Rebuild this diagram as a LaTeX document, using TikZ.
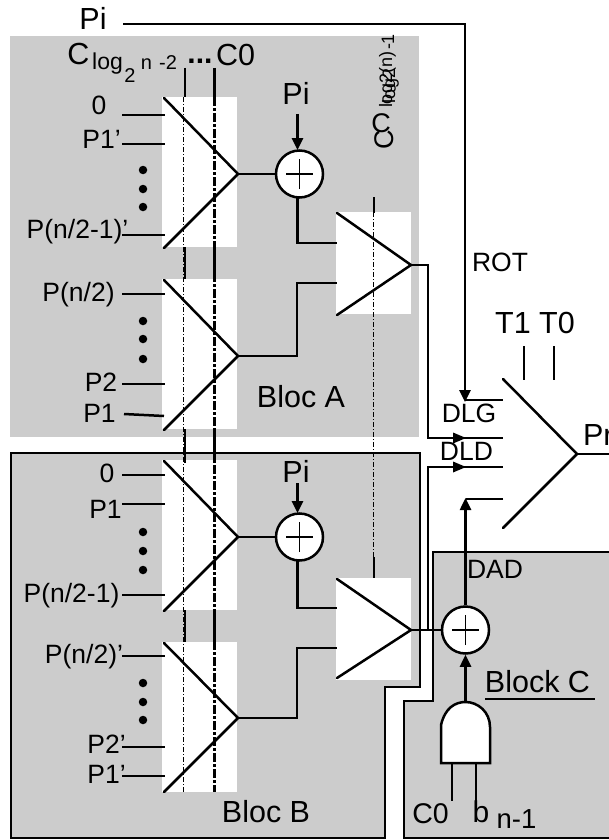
\documentclass[tikz,border=0pt]{standalone}
\usepackage{fontspec}
\setmainfont{Liberation Sans}
\usetikzlibrary{arrows.meta}
\definecolor{blocgray}{HTML}{CCCCCC}
\newcommand{\fs}[1]{\fontsize{#1}{#1}\selectfont}
\tikzset{
  x=1pt,y=-1pt,
  wire/.style={line width=2.5pt,black},
  thinwire/.style={line width=2pt,black},
  arrowwire/.style={wire,-{Triangle[length=12pt,width=11pt]},shorten >=0pt},
  panel/.style={fill=blocgray,draw=none},
  whitebox/.style={fill=white,draw=none},
  blocborder/.style={fill=blocgray,draw=black,line width=2.5pt,miter limit=10},
  muxline/.style={line width=2.5pt,black,line cap=round},
  xorgate/.style={circle,draw=black,fill=white,line width=2.5pt,minimum size=47pt,inner sep=0pt},
  lab/.style={anchor=base,inner sep=0pt,outer sep=0pt,text=black,font=\fs{26.5}},
  biglab/.style={lab,font=\fs{30.5}},
  midlab/.style={lab,font=\fs{23}},
  smalllab/.style={lab,font=\fs{20}},
  dotmark/.style={circle,fill=black,draw=none,minimum size=8.5pt,inner sep=0pt},
  thindash/.style={line width=0.9pt,black,dash pattern=on 5pt off 2pt on 1pt off 2pt},
  heavydash/.style={line width=2.5pt,black,dash pattern=on 9pt off 2pt on 3pt off 2pt},
  selline/.style={line width=2.5pt,black}
}
\newcommand{\xorplus}[1]{%
  \draw[line width=1.8pt] ([xshift=-13.5pt]#1.center) -- ([xshift=13.5pt]#1.center);
  \draw[line width=1.8pt] ([yshift=-15pt]#1.center) -- ([yshift=15pt]#1.center);}
\begin{document}
\begin{tikzpicture}
\useasboundingbox (0,0) rectangle (609,840);
\clip (0,0) rectangle (609,840);
% panels
\fill[panel] (10,36) rectangle (419,437);
\draw[blocborder] (11,453) -- (420,453) -- (420,687) -- (385,687) -- (385,838) -- (11,838) -- cycle;
\draw[blocborder] (640,552) -- (433,552) -- (433,701) -- (404,701) -- (404,838) -- (640,838);
% white backgrounds of the multiplexers
\foreach \ya/\yb in {97/247,279/429,460/610,642/792} \fill[whitebox] (162,\ya) rectangle (237,\yb);
\fill[whitebox] (336,212) rectangle (411,314);
\fill[whitebox] (336,578) rectangle (411,680);
% select lines
\draw[thindash] (183.5,97) -- (183.5,792);
\foreach \ya/\yb in {68/97,247/279,429/463,610/642} \draw[selline] (185,\ya) -- (185,\yb);
\draw[heavydash] (214.3,97) -- (214.3,792);
\foreach \ya/\yb in {68/97,247/279,429/460,610/642} \draw[selline] (214.3,\ya) -- (214.3,\yb);
\draw[thindash] (373.3,212) -- (373.3,578);
\draw[selline] (374,197) -- (374,213);
\draw[selline] (374,557) -- (374,578);
% multiplexers
\coordinate (m1) at (238,174);
\coordinate (m2) at (238,356);
\coordinate (m3) at (238,537);
\coordinate (m4) at (238,718);
\coordinate (m5) at (411,265);
\coordinate (m6) at (411,630);
\coordinate (mout) at (577,454);
\draw[muxline] (164,98) -- (m1) -- (164,248);
\draw[muxline] (164,280) -- (m2) -- (164,430);
\draw[muxline] (164,461) -- (m3) -- (164,611);
\draw[muxline] (164,643) -- (m4) -- (164,792);
\draw[muxline] (337,213) -- (m5) -- (337,315);
\draw[muxline] (337,579) -- (m6) -- (337,678);
\draw[muxline] (503,379) -- (mout) -- (503,528);
% mux inputs
\foreach \y in {115,144,235,294,384,475,504,595,656,747,776} \draw[wire] (122,\y) -- (165,\y);
\draw[wire] (124,414) -- (164,416);
% ellipsis dots
\foreach \y in {170,189,207,321,339,359,532,551,570,683,702,720} \node[dotmark] at (143,\y) {};
% xor gates
\node[xorgate] (xa) at (299.5,174) {};
\node[xorgate] (xb) at (299.5,537) {};
\node[xorgate] (xc) at (465.5,630) {};
\xorplus{xa}\xorplus{xb}\xorplus{xc}
\draw[thinwire] (m1) -- (xa.west);
\draw[thinwire] (m3) -- (xb.west);
\draw[thinwire] (m6) -- (xc.west);
% xor to second stage
\draw[wire] (297.5,197) -- (297.5,243) -- (337,243);
\draw[wire] (m2) -- (297,356) -- (297,283) -- (337,283);
\draw[wire] (297.5,560) -- (297.5,608) -- (337,608);
\draw[wire] (m4) -- (297,718) -- (297,648) -- (337,648);
% Pi arrows
\coordinate (pa) at (297.5,114);
\coordinate (pb) at (297.5,483);
\coordinate (pat) at (297.5,150);
\coordinate (pbt) at (297.5,513);
\draw[arrowwire] (pa) -- (pat);
\draw[arrowwire] (pb) -- (pbt);
% main inputs
\coordinate (pitop) at (123,24);
\coordinate (rotin) at (465,402);
\draw[arrowwire] (pitop) -- (465,24) -- (rotin);
\draw[wire] (465,400) -- (503,400);
\draw[wire] (m5) -- (428,265) -- (428,438) -- (503,438);
\draw[wire] (428,630) -- (428,467) -- (503,467);
\fill[black] (466,438) -- (453,432.5) -- (453,443.5) -- cycle;
\fill[black] (466,467) -- (453,461.5) -- (453,472.5) -- cycle;
\draw[wire] (503,499) -- (465.5,499);
\draw[arrowwire] (xc.north) -- (465.5,498);
\draw[wire] (mout) -- (612,454);
% T lines
\draw[wire] (524,346) -- (524,380);
\draw[wire] (554,346) -- (554,380);
% AND gate
\draw[line width=2.5pt,fill=white,line join=miter] (441,763) -- (441,725)
  .. controls (445,708) and (455,702) .. (465.5,702)
  .. controls (478,702) and (490,712) .. (490,727) -- (490,763) -- cycle;
\coordinate (andtop) at (465.5,702);
\draw[arrowwire] (andtop) -- (xc.south);
\draw[wire] (452,763) -- (452,801);
\draw[wire] (476,763) -- (476,803);
\draw[line width=2.6pt] (485,699) -- (595,699);
% labels
\node[biglab] at (93,30) {Pi};
\node[biglab] at (78.5,65) {C};
\node[midlab] at (107.5,70) {log};
\node[smalllab] at (130,83) {2};
\node[smalllab] at (146.5,70) {n};
\node[smalllab] at (168,70) {-2};
\node[lab,font=\fs{30}\bfseries] at (200,64) {...};
\node[biglab] at (235.5,66) {C0};
\node[lab] at (99,115) {0};
\node[lab] at (101.5,148) {P1'};
\node[lab] at (77.5,238) {P(n/2-1)'};
\node[biglab] at (296,105) {Pi};
\node[lab] at (78.5,301) {P(n/2)};
\node[lab] at (101,391) {P2};
\node[lab] at (99.5,422) {P1};
\node[biglab] at (301,407) {Bloc A};
\node[lab] at (107,482) {0};
\node[lab] at (105.5,518) {P1};
\node[lab] at (71.5,602) {P(n/2-1)};
\node[lab] at (84,663) {P(n/2)'};
\node[lab] at (106.5,753) {P2'};
\node[lab] at (106.5,783) {P1'};
\node[biglab] at (296,482) {Pi};
\node[biglab] at (266,822) {Bloc B};
\node[lab] at (500,271) {ROT};
\node[biglab] at (535,333) {T1 T0};
\node[biglab,anchor=base west] at (583,445) {Pr};
\node[lab] at (469,422) {DLG};
\node[lab] at (466.5,460) {DLD};
\node[lab] at (495,578) {DAD};
\node[biglab] at (537.5,692) {Block C};
\node[lab,font=\fs{28.5}] at (430.5,823) {C0};
\node[lab,font=\fs{30}] at (481,822) {b};
\node[lab,font=\fs{27.5}] at (516.5,828) {n-1};
% overstruck rotated label
\node[lab,rotate=90,anchor=base,font=\fs{27}] at (393,140) {C};
\node[lab,font=\fs{27}] at (381,132) {C};
\node[lab,rotate=90,anchor=base west,font=\fs{18}] at (392,108) {log2(n)};
\node[lab,rotate=90,anchor=base west,font=\fs{18}] at (395,103) {log2};
\node[lab,rotate=90,anchor=base west,font=\fs{18}] at (394,50) {-1};
\end{tikzpicture}
\end{document}
